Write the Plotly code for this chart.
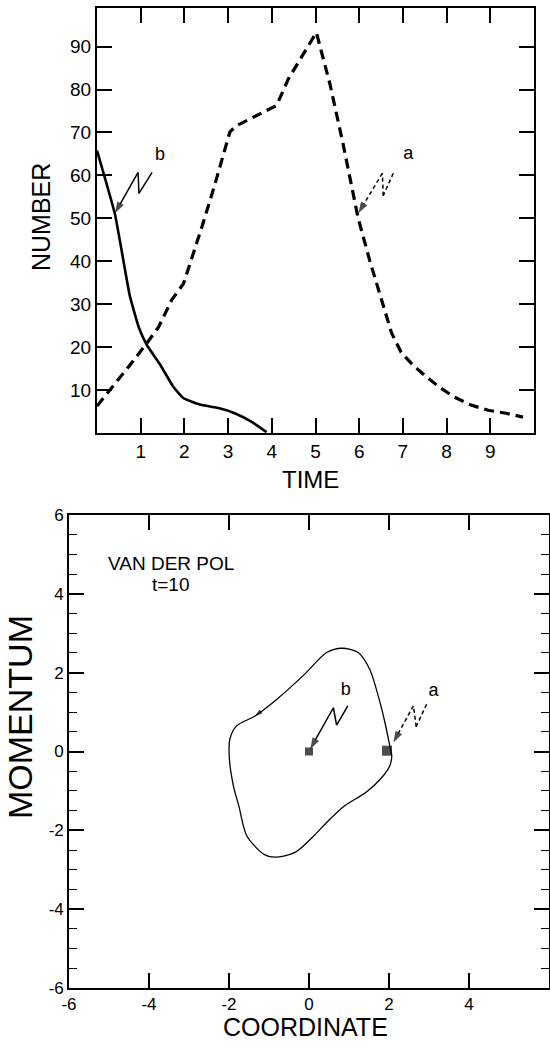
import plotly.graph_objects as go

# ---------------- top panel data ----------------
time_a = [0, 0.11, 0.34, 0.72, 1.14, 1.41, 1.71, 1.98, 2.4, 2.7, 3.04, 3.16, 4.11, 4.38, 5.02,
          5.33, 5.63, 5.97, 6.24, 6.51, 6.74, 6.96, 7.23, 7.49, 7.83, 8.17, 8.56, 8.95, 9.36, 9.75]
number_a = [6.3, 7.7, 10.4, 15.4, 20.9, 24.7, 31, 34.8, 48, 58, 70.1, 71.4, 76.3, 82.5, 93.3,
            81.3, 67.4, 50.3, 40.2, 31.4, 23.3, 18.8, 15.8, 13.5, 10.7, 8.4, 6.5, 5.3, 4.6, 3.7]
time_b = [0, 0.41, 0.75, 0.96, 1.14, 1.44, 1.75, 1.98, 2.4, 2.78, 3.15, 3.54, 3.88]
number_b = [65.8, 51, 32, 24.5, 20.5, 16, 10.7, 8.1, 6.5, 5.8, 4.6, 2.6, 0.2]
time_ticks = [1, 2, 3, 4, 5, 6, 7, 8, 9]
number_ticks = [10, 20, 30, 40, 50, 60, 70, 80, 90]

bolt_b_top_t = [1.26, 0.96, 0.94, 0.41]
bolt_b_top_n = [60.7, 55.8, 60.7, 51.2]
bolt_a_top_t = [6.78, 6.55, 6.53, 5.98]
bolt_a_top_n = [60.5, 55.3, 60.5, 51.2]
label_top_t = [1.44, 7.12]
label_top_n = [64.7, 64.9]
label_text = ["b", "a"]

# ---------------- bottom panel data ----------------
cycle_x = [-1.81, -1.35, -0.81, -0.12, 0.44, 0.82, 1.23, 1.52, 1.73, 1.9, 2.02, 2.07, 2.02, 1.82,
           1.42, 0.9, 0.44, 0.17, -0.35, -0.85, -1.14, -1.56, -1.75, -1.89, -1.99, -1.98, -1.81]
cycle_y = [0.65, 0.9, 1.32, 1.95, 2.51, 2.62, 2.51, 2.08, 1.41, 0.73, 0.14, -0.11, -0.36, -0.66,
           -1.04, -1.37, -1.8, -2.09, -2.56, -2.68, -2.6, -2.13, -1.4, -0.87, -0.19, 0.31, 0.65]
cycle_arrow_x = [-0.81, -1.35]
cycle_arrow_y = [1.32, 0.9]
fixed_x = [0, 1.95]
fixed_y = [0, 0.02]
fixed_size = [8, 10]

bolt_b_bot_x = [0.97, 0.69, 0.61, 0.03]
bolt_b_bot_y = [1.16, 0.67, 1.11, 0.06]
bolt_a_bot_x = [2.94, 2.68, 2.61, 2.11]
bolt_a_bot_y = [1.2, 0.63, 1.16, 0.23]
label_bot_x = [0.92, 3.11]
label_bot_y = [1.54, 1.51]

coord_ticks = [-6, -4, -2, 0, 2, 4, 6]
coord_text = ["-6", "-4", "-2", "0", "2", "4", "6"]

FONT = "Liberation Sans, Arial, Helvetica, sans-serif"
W, H = 550, 1049

fig = go.Figure()

# top panel curves
fig.add_trace(go.Scatter(x=time_a, y=number_a, mode="lines", xaxis="x", yaxis="y",
                         line=dict(color="black", width=3.2, dash="10px,6px")))
fig.add_trace(go.Scatter(x=time_b, y=number_b, mode="lines", xaxis="x", yaxis="y",
                         line=dict(color="black", width=2.6, shape="spline", smoothing=0.4)))

def bolt(xs, ys, xa, ya, dash):
    fig.add_trace(go.Scatter(
        x=xs, y=ys, mode="lines+markers", xaxis=xa, yaxis=ya,
        line=dict(color="black", width=1.5, dash=dash),
        marker=dict(symbol="arrow", size=[0] * (len(xs) - 1) + [12],
                    angleref="previous", color="black", line=dict(width=0))))

bolt(bolt_b_top_t, bolt_b_top_n, "x", "y", "solid")
bolt(bolt_a_top_t, bolt_a_top_n, "x", "y", "4px,3px")

fig.add_trace(go.Scatter(x=label_top_t, y=label_top_n, mode="text", text=label_text,
                         xaxis="x", yaxis="y",
                         textfont=dict(family=FONT, size=18, color="black")))

# bottom panel
fig.add_trace(go.Scatter(x=cycle_x, y=cycle_y, mode="lines", xaxis="x2", yaxis="y2",
                         line=dict(color="black", width=1.3, shape="spline", smoothing=0.8)))
fig.add_trace(go.Scatter(x=cycle_arrow_x, y=cycle_arrow_y, mode="markers", xaxis="x2", yaxis="y2",
                         marker=dict(symbol="arrow", size=[0, 8], angleref="previous",
                                     color="black", line=dict(width=0))))
fig.add_trace(go.Scatter(x=fixed_x, y=fixed_y, mode="markers", xaxis="x2", yaxis="y2",
                         marker=dict(symbol="square", size=fixed_size, color="black",
                                     line=dict(width=0))))
bolt(bolt_b_bot_x, bolt_b_bot_y, "x2", "y2", "solid")
bolt(bolt_a_bot_x, bolt_a_bot_y, "x2", "y2", "4px,3px")
fig.add_trace(go.Scatter(x=label_bot_x, y=label_bot_y, mode="text", text=label_text,
                         xaxis="x2", yaxis="y2",
                         textfont=dict(family=FONT, size=18, color="black")))

axis_common = dict(showgrid=False, zeroline=False, showline=True, linecolor="black",
                   mirror="allticks", ticks="inside", tickcolor="black", ticklen=15,
                   tickwidth=1.5, color="black", automargin=False)

def ann(text, x, y, size, angle=0, ref="paper"):
    return dict(text=text, x=x, y=y, xref="paper" if ref == "paper" else "x2",
                yref="paper" if ref == "paper" else "y2", showarrow=False, textangle=angle,
                xanchor="center", yanchor="middle", font=dict(size=size))

fig.update_layout(
    template="none",
    width=W, height=H, autosize=False,
    margin=dict(l=0, r=0, t=0, b=0, pad=0, autoexpand=False),
    paper_bgcolor="white", plot_bgcolor="white",
    showlegend=False,
    font=dict(family=FONT, color="black"),
    xaxis=dict(domain=[97 / W, 534 / W], anchor="y", range=[0, 10], tickvals=time_ticks,
               linewidth=2, tickfont=dict(size=19), **axis_common),
    yaxis=dict(domain=[(H - 433) / H, (H - 8) / H], anchor="x", range=[0, 99],
               tickvals=number_ticks, linewidth=2, tickfont=dict(size=19), **axis_common),
    xaxis2=dict(domain=[69 / W, 549 / W], anchor="y2", range=[-6, 6], tickvals=coord_ticks,
                ticktext=coord_text, linewidth=1.6, tickfont=dict(size=17), **axis_common),
    yaxis2=dict(domain=[(H - 988) / H, (H - 515) / H], anchor="x2", range=[-6, 6],
                tickvals=coord_ticks, ticktext=coord_text, linewidth=1.6,
                tickfont=dict(size=17),
                minor=dict(ticks="inside", ticklen=8, dtick=0.5, tick0=0,
                           tickcolor="black", tickwidth=1.2),
                **axis_common),
    annotations=[
        ann("NUMBER", 41 / W, 1 - 217 / H, 25, -90),
        ann("TIME", 310 / W, 1 - 480 / H, 24),
        ann("MOMENTUM", 20 / W, 1 - 717 / H, 34, -90),
        ann("COORDINATE", 305 / W, 1 - 1027 / H, 25),
        ann("VAN DER POL", -3.45, 4.78, 19, ref="data"),
        ann("t=10", -3.45, 4.23, 19, ref="data"),
    ],
)

fig.write_html(
    "out.html",
    config={"displayModeBar": False, "responsive": False},
    post_script=(
        "document.documentElement.style.margin='0';"
        "document.documentElement.style.padding='0';"
        "document.documentElement.style.overflow='hidden';"
        "document.body.style.margin='0';"
        "document.body.style.padding='0';"
        "document.body.style.overflow='hidden';"
    ),
)
